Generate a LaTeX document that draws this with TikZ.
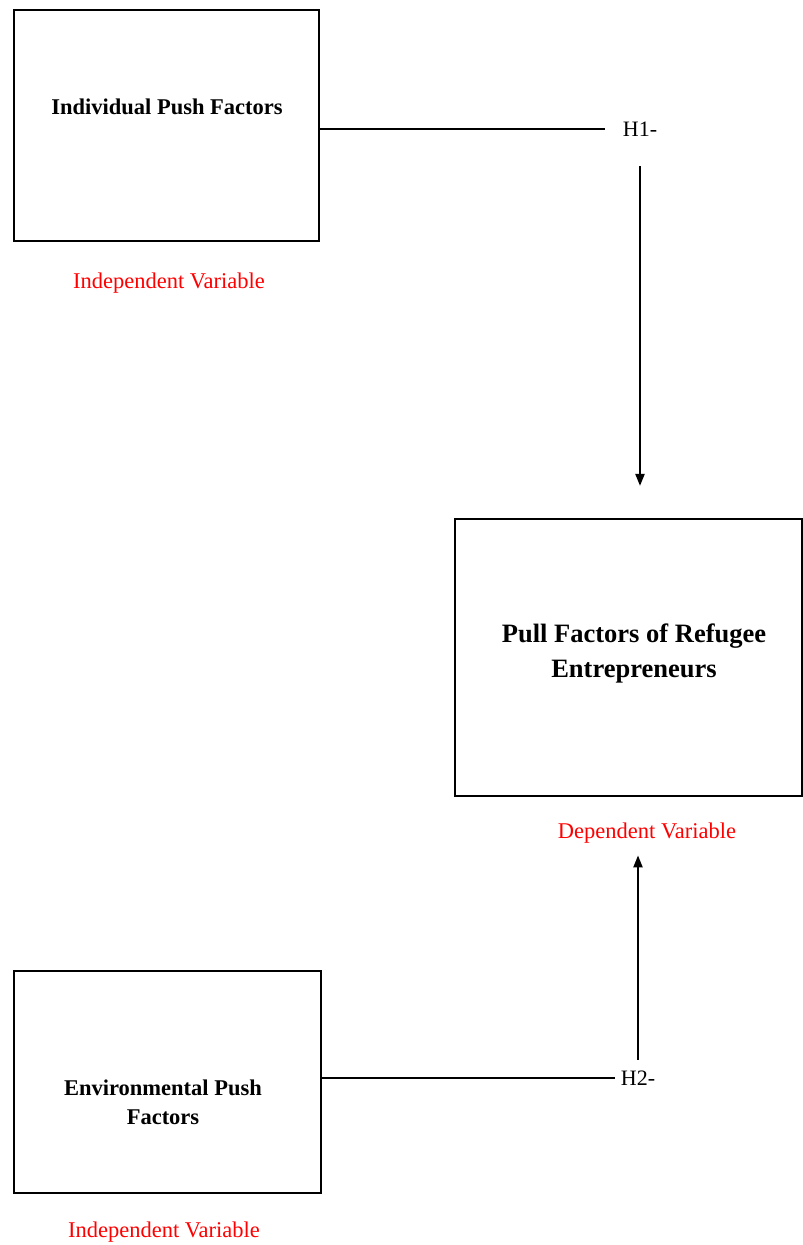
\documentclass[tikz,border=0pt]{standalone}
\usepackage{fontspec}
\setmainfont{Liberation Serif}
\usetikzlibrary{arrows.meta}
\begin{document}
\begin{tikzpicture}[x=1pt,y=-1pt,
  box/.style={draw=black,line width=2.2pt,inner sep=0pt},
  boxtext/.style={font=\bfseries\fontsize{22.5}{29}\selectfont,align=center,inner sep=0pt},
  bigtext/.style={font=\bfseries\fontsize{26.5}{35}\selectfont,align=center,inner sep=0pt},
  varlabel/.style={font=\fontsize{22.5}{27}\selectfont,text=red,inner sep=0pt},
  hyp/.style={font=\fontsize{22}{26}\selectfont,inner sep=0pt},
  conn/.style={draw=black,line width=2.2pt},
  arr/.style={draw=black,line width=2.2pt,-{Triangle[length=12pt,width=9pt]}}]
\useasboundingbox (0,0) rectangle (803,1245);
% boxes
\node[box,minimum width=305pt,minimum height=231pt] (b1) at (166.5,125.5) {};
\node[box,minimum width=347pt,minimum height=277pt] (b2) at (628.5,657.5) {};
\node[box,minimum width=307pt,minimum height=222pt] (b3) at (167.5,1082) {};
% texts
\node[boxtext] (t1) at (167,107) {Individual Push Factors};
\node[bigtext] (t2) at (634,653) {Pull Factors of Refugee\\Entrepreneurs};
\node[boxtext] (t3) at (163,1102) {Environmental Push\\Factors};
\node[varlabel] (l1) at (169,283) {Independent Variable};
\node[varlabel] (l2) at (647,833) {Dependent Variable};
\node[varlabel] (l3) at (164,1232) {Independent Variable};
\node[hyp] (h1) at (640,129) {H1-};
\node[hyp] (h2) at (638,1078) {H2-};
% connectors
\draw[conn,shorten >=18pt] (b1.east |- h1) -- (h1.west);
\draw[arr,shorten <=30pt,shorten >=32pt] (h1.south) -- (h1.south |- b2.north);
\draw[conn,shorten >=6pt] (b3.east |- h2) -- (h2.west);
\draw[arr,shorten <=11pt,shorten >=12pt] (h2.north) -- (h2.north |- l2.south);
\end{tikzpicture}
\end{document}
